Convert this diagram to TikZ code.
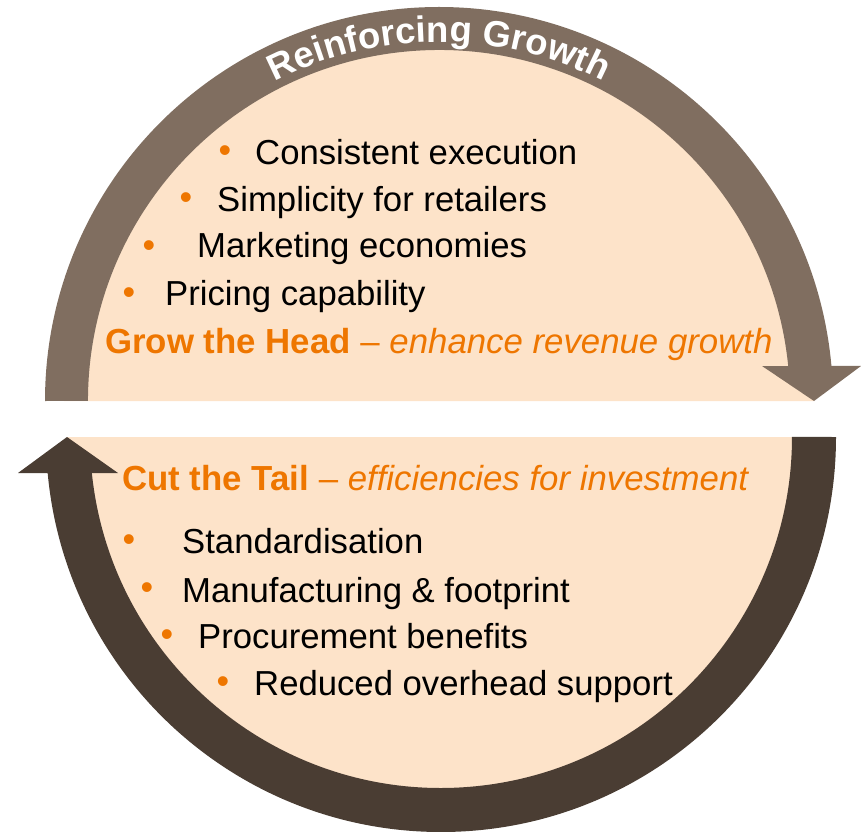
\documentclass[tikz,border=0pt]{standalone}
\usepackage{fontspec}
\setmainfont{Liberation Sans}
\usetikzlibrary{decorations.text}
\definecolor{bandtop}{RGB}{128,110,96}
\definecolor{bandbot}{RGB}{74,61,51}
\definecolor{peach}{RGB}{253,227,201}
\definecolor{accent}{RGB}{238,118,0}

\begin{document}
\begin{tikzpicture}[x=1pt,y=1pt,
  body/.style={anchor=base west, inner sep=0pt, font=\fontsize{34.7}{40}\selectfont, text=black},
  heading/.style={anchor=base west, inner sep=0pt, font=\fontsize{34.8}{40}\selectfont, text=accent},
  dot/.style={anchor=center, inner sep=0pt, font=\fontsize{36}{40}\selectfont, text=accent}]
\useasboundingbox (0,0) rectangle (861,831);

% light fill of the two halves
\fill[peach] (64,430) arc[start angle=180,end angle=0,radius=375] -- cycle;
\fill[peach] (815,394) arc[start angle=0,end angle=-180,radius=374] -- cycle;

% upper circular arrow (left to right, pointing down)
\fill[bandtop] (45,430) arc[start angle=180,end angle=5.1,radius=394]
  -- (861,465) -- (814,430) -- (762,465) -- (788.2,465)
  arc[start angle=5.72,end angle=180,radius=351] -- cycle;

% lower circular arrow (right to left, pointing up)
\fill[bandbot] (836,394) arc[start angle=0,end angle=-174.77,radius=395]
  -- (18,358) -- (67,394) -- (118,358) -- (91.85,358)
  arc[start angle=-174.11,end angle=0,radius=351] -- cycle;

% title along the upper band
\path[decorate, decoration={text along path, text align=center, text color=white,
  text={|\fontsize{36.5}{40}\selectfont\bfseries|Reinforcing Growth}}]
  (80,430) arc[start angle=180,end angle=0,radius=359];

% upper half: grow the head
\node[dot] (b1) at (225,677) {•};
\node[body] (t1) at (255,666) {Consistent execution};
\node[dot] (b2) at (186,630) {•};
\node[body] (t2) at (217,619) {Simplicity for retailers};
\node[dot] (b3) at (149,582) {•};
\node[body] (t3) at (197,573) {Marketing economies};
\node[dot] (b4) at (129,535) {•};
\node[body] (t4) at (165,525) {Pricing capability};
\node[heading] (head) at (105,477) {\textbf{Grow the Head} – \textit{enhance revenue growth}};

% lower half: cut the tail
\node[heading] (tail) at (122,341) {\textbf{Cut the Tail} – \textit{efficiencies for investment}};
\node[dot] (c1) at (129,288) {•};
\node[body] (s1) at (182,278) {Standardisation};
\node[dot] (c2) at (147,240) {•};
\node[body] (s2) at (182,229) {Manufacturing \& footprint};
\node[dot] (c3) at (167,193) {•};
\node[body] (s3) at (198,183) {Procurement benefits};
\node[dot] (c4) at (223,146) {•};
\node[body] (s4) at (254,136) {Reduced overhead support};
\end{tikzpicture}
\end{document}
